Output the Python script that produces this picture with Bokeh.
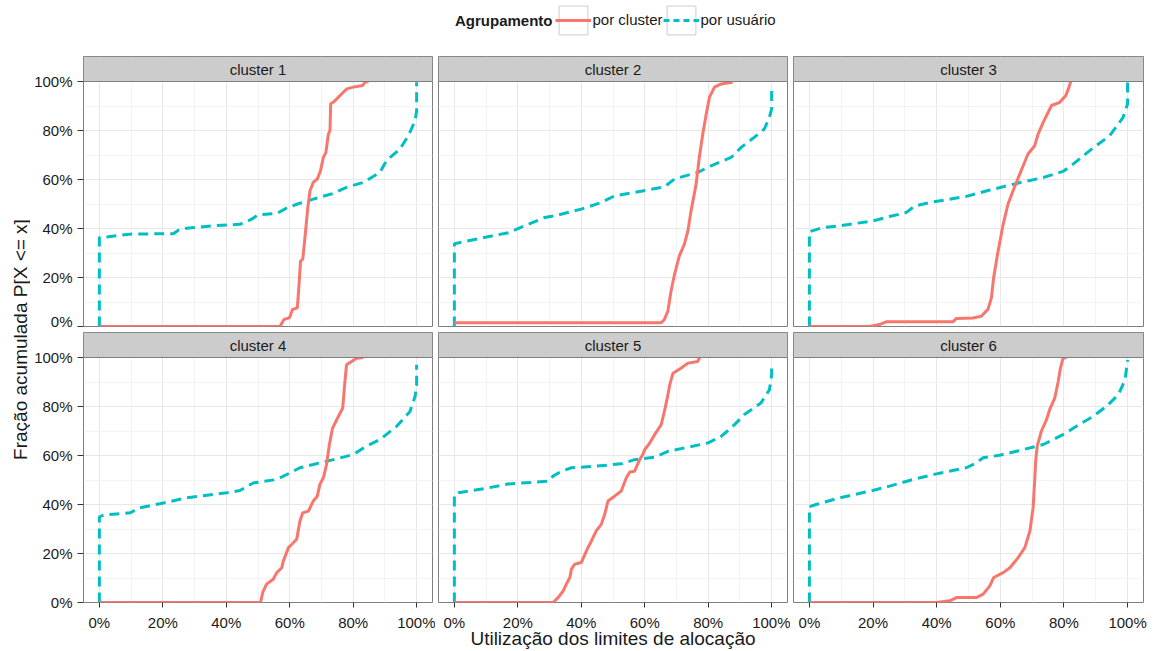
from bokeh.plotting import figure
from bokeh.layouts import row, column
from bokeh.models import (Range1d, FixedTicker, PrintfTickFormatter, Grid, BoxAnnotation,
                          Label, Legend, LegendItem)
from bokeh.embed import file_html
from bokeh.resources import INLINE

FONT = "Liberation Sans"
RED = "#F8766D"
TEAL = "#00BFC4"
TXT = "#1a1a1a"
BORDER = "#7f7f7f"

clusters = ["cluster 1", "cluster 2", "cluster 3", "cluster 4", "cluster 5", "cluster 6"]
series_labels = ["por cluster", "por usuário"]
legend_title = "Agrupamento"
x_title = "Utilização dos limites de alocação"
y_title = "Fração acumulada P[X <= x]"
tick_values = [0, 20, 40, 60, 80, 100]
minor_values = [10, 30, 50, 70, 90]

# ECDF curves, utilisation (%) vs cumulative fraction (%)
c1_cluster_x = [0, 56.9, 58.2, 59.9, 60.9, 62.4, 62.8, 63.4, 64.1, 64.8, 65.7, 66.4, 67.4, 68.7, 69.7,
                70.6, 71.4, 72.2, 72.7, 72.9, 73.7, 74.8, 76.4, 78.0, 80.0, 83.0, 83.7, 84.8]
c1_cluster_y = [0, 0, 2.9, 3.5, 7.0, 7.6, 14.5, 26.7, 27.4, 36.3, 48.6, 55.4, 58.8, 60.2, 63.6,
                69.0, 71.1, 78.6, 80.0, 90.9, 91.5, 92.9, 95.0, 97.0, 97.7, 98.4, 99.7, 100]
c1_user_x = [0, 0, 2.8, 9.7, 23.3, 24.9, 27.5, 35.9, 44.3, 48.0, 50.1, 55.9, 59.0, 62.2, 67.4, 73.7,
             77.9, 83.2, 88.4, 90.5, 94.7, 97.4, 99.5, 100, 100]
c1_user_y = [0, 36.3, 36.6, 37.7, 37.9, 39.3, 40.1, 41.1, 41.7, 43.8, 45.6, 46.1, 48.3, 49.9, 52.0, 54.3,
             56.8, 58.8, 62.9, 67.7, 72.4, 77.9, 84.0, 88.1, 99.7]

c2_cluster_x = [0, 65.2, 66.2, 67.3, 68.3, 69.4, 70.9, 72.5, 73.6, 74.6, 76.2, 77.2, 78.3, 79.4, 80.4,
                82.0, 84.1, 87.7]
c2_cluster_y = [1.5, 1.5, 2.9, 6.3, 14.5, 21.3, 28.8, 33.6, 39.0, 47.2, 58.1, 69.0, 78.6, 86.8, 93.6,
                97.7, 99.0, 99.7]
c2_user_x = [0, 0, 9.4, 17.0, 23.3, 28.5, 31.7, 40.0, 46.3, 50.5, 56.8, 66.2, 69.4, 76.7, 80.9, 87.2,
             90.4, 94.5, 97.7, 99.3, 100, 100]
c2_user_y = [0, 33.8, 36.3, 38.3, 41.7, 44.5, 45.2, 47.9, 50.6, 53.3, 54.7, 57.0, 60.2, 62.9, 65.6, 69.0,
             73.1, 77.2, 80.6, 85.4, 88.8, 97.4]

c3_cluster_x = [0, 18.9, 22.0, 24.1, 45.1, 46.2, 51.4, 54.0, 56.1, 57.2, 57.9, 59.3, 60.9, 62.4, 64.0,
                66.1, 68.7, 70.8, 71.9, 73.5, 76.1, 78.7, 80.6, 81.6, 82.1]
c3_cluster_y = [0, 0, 0.8, 1.9, 1.9, 3.3, 3.5, 4.2, 7.0, 11.7, 19.9, 30.8, 41.7, 49.9, 55.4,
                62.2, 70.4, 73.8, 78.6, 83.4, 90.2, 91.5, 94.3, 97.7, 100]
c3_user_x = [0, 0, 4.2, 9.4, 19.9, 25.2, 30.4, 33.1, 37.8, 49.3, 56.7, 65.1, 73.5, 79.7, 82.9, 88.1,
             94.4, 98.6, 100, 100]
c3_user_y = [0, 38.7, 40.4, 41.1, 43.1, 44.9, 46.5, 49.2, 50.6, 53.1, 55.7, 58.4, 60.8, 63.3, 66.3, 71.8,
             77.9, 85.4, 90.9, 99.7]

c4_cluster_x = [0, 50.8, 51.5, 52.7, 54.8, 55.9, 57.5, 58.0, 59.6, 60.6, 62.2, 63.2, 64.1, 65.9, 67.4,
                68.7, 69.5, 70.6, 71.6, 72.5, 73.5, 74.8, 76.7, 77.4, 77.9, 79.5, 81.1, 83.2]
c4_cluster_y = [0, 0, 4.1, 7.5, 9.5, 12.2, 14.2, 17.0, 22.4, 23.7, 25.8, 33.2, 36.6, 37.3, 41.4,
                43.4, 48.2, 50.9, 56.3, 64.5, 71.2, 74.6, 79.4, 90.2, 97.0, 98.4, 99.7, 100]
c4_user_x = [0, 0, 1.3, 9.7, 12.8, 19.1, 27.5, 40.1, 44.3, 48.5, 55.9, 60.1, 63.2, 67.4, 73.7, 80.0,
             84.2, 88.4, 93.7, 97.9, 99.5, 100, 100]
c4_user_y = [0, 34.9, 35.7, 36.6, 38.7, 40.3, 42.7, 44.8, 45.7, 48.8, 50.2, 52.9, 55.0, 56.3, 58.3, 60.4,
             63.8, 66.5, 71.9, 78.0, 84.1, 88.9, 97.0]

c5_cluster_x = [0, 31.1, 32.7, 34.3, 35.3, 36.4, 36.9, 37.9, 40.0, 42.1, 43.2, 44.7, 46.3, 47.4, 48.4,
                50.5, 52.6, 54.2, 55.3, 56.8, 58.4, 59.4, 60.0, 61.6, 63.1, 65.2, 66.2, 67.1, 67.9,
                68.9, 71.5, 73.6, 76.7, 77.3]
c5_cluster_y = [0, 0, 2.0, 4.7, 7.5, 10.2, 13.6, 15.6, 16.3, 22.4, 25.1, 29.2, 31.9, 36.0, 41.4,
                43.4, 45.5, 50.9, 53.3, 53.6, 58.3, 60.4, 62.4, 65.1, 68.5, 72.6, 78.0, 83.4, 88.9,
                93.6, 95.7, 97.7, 98.4, 100]
c5_user_x = [0, 0, 1.3, 9.6, 17.0, 29.6, 31.1, 33.8, 36.9, 44.2, 52.6, 56.8, 63.1, 67.3, 79.9, 84.1,
             88.3, 91.4, 96.6, 99.3, 100, 100]
c5_user_y = [0, 44.1, 44.8, 46.5, 48.4, 49.5, 51.6, 53.6, 55.0, 55.6, 56.6, 58.3, 59.3, 61.7, 65.1, 67.8,
             72.6, 76.7, 81.4, 86.8, 92.9, 97.3]

c6_cluster_x = [0, 39.9, 44.1, 46.2, 52.5, 54.6, 56.7, 57.9, 60.9, 63.0, 65.6, 67.7, 69.3, 70.3, 70.8,
                71.1, 71.6, 72.9, 74.5, 75.5, 77.1, 78.2, 78.9, 79.7, 80.8]
c6_cluster_y = [0, 0, 0.7, 2.0, 2.0, 3.4, 6.8, 10.2, 12.2, 14.2, 18.3, 22.4, 29.2, 38.7, 49.5,
                57.7, 63.8, 69.9, 74.6, 78.7, 83.4, 90.2, 95.7, 99.7, 100]
c6_user_x = [0, 0, 2.1, 9.4, 19.9, 25.2, 32.5, 39.9, 49.3, 52.5, 54.6, 59.8, 67.2, 73.5, 79.7, 83.9,
             89.2, 93.4, 97.1, 99.2, 100]
c6_user_y = [0, 39.1, 40.0, 42.7, 45.7, 47.5, 50.2, 52.5, 55.0, 57.0, 59.1, 60.1, 62.4, 64.5, 68.5, 71.9,
             76.0, 80.1, 84.8, 90.9, 99.0]

cluster_series = [(c1_cluster_x, c1_cluster_y), (c2_cluster_x, c2_cluster_y), (c3_cluster_x, c3_cluster_y),
                  (c4_cluster_x, c4_cluster_y), (c5_cluster_x, c5_cluster_y), (c6_cluster_x, c6_cluster_y)]
user_series = [(c1_user_x, c1_user_y), (c2_user_x, c2_user_y), (c3_user_x, c3_user_y),
               (c4_user_x, c4_user_y), (c5_user_x, c5_user_y), (c6_user_x, c6_user_y)]

DASH = "10 6"
STRIP = 25 / 245 * 100   # facet strip height expressed in y units
Y_TOP = 100 + STRIP
NAN = float("nan")


def style_axis(ax):
    ax.ticker = FixedTicker(ticks=tick_values, minor_ticks=[])
    ax.formatter = PrintfTickFormatter(format="%d%%")
    ax.axis_line_color = None
    ax.major_tick_line_color = "#333333"
    ax.major_tick_in = 0
    ax.minor_tick_line_color = None
    ax.major_label_text_font = FONT
    ax.major_label_text_font_size = "15px"
    ax.major_label_text_color = TXT


def make_panel(idx):
    r, c = divmod(idx, 3)
    p = figure(frame_width=350 if c == 2 else 349, frame_height=270,
               x_range=Range1d(-5, 105), y_range=Range1d(0, Y_TOP),
               x_axis_location="below" if r == 1 else None,
               y_axis_location="left" if c == 0 else None,
               min_border_left=53 if c == 0 else 3,
               min_border_right=11 if c == 2 else 3,
               min_border_top=3, min_border_bottom=49 if r == 1 else 3,
               toolbar_location=None, output_backend="svg",
               background_fill_color="white", border_fill_color="white",
               outline_line_color=BORDER, outline_line_width=1)
    p.center = []
    p.add_layout(Grid(dimension=0, ticker=FixedTicker(ticks=tick_values, minor_ticks=minor_values),
                      grid_line_color="#e8e8e8", grid_line_width=1,
                      minor_grid_line_color="#f3f3f3", minor_grid_line_width=1))
    p.add_layout(Grid(dimension=1, ticker=FixedTicker(ticks=tick_values, minor_ticks=minor_values),
                      grid_line_color="#e8e8e8", grid_line_width=1,
                      minor_grid_line_color="#f3f3f3", minor_grid_line_width=1))
    if r == 1:
        style_axis(p.xaxis[0])
        p.xaxis.major_tick_out = 5
        p.xaxis.major_label_standoff = 6
        if c == 1:
            p.xaxis.axis_label = x_title
            p.xaxis.axis_label_text_font = FONT
            p.xaxis.axis_label_text_font_size = "19px"
            p.xaxis.axis_label_text_font_style = "normal"
            p.xaxis.axis_label_text_color = TXT
            p.xaxis.axis_label_standoff = -6
    if c == 0:
        style_axis(p.yaxis[0])
        p.yaxis.major_tick_out = 6
        p.yaxis.major_label_standoff = 5

    ux, uy = user_series[idx]
    cx, cy = cluster_series[idx]
    p.line(ux, uy, line_color=TEAL, line_width=3, line_dash=DASH)
    p.line(cx, cy, line_color=RED, line_width=3)

    p.add_layout(BoxAnnotation(left=-5, right=105, bottom=100, top=Y_TOP,
                               fill_color="#cccccc", fill_alpha=1,
                               line_color=BORDER, line_width=1, line_alpha=1))
    p.add_layout(Label(x=50, y=100 + STRIP / 2, text=clusters[idx], text_align="center",
                       text_baseline="middle", text_font=FONT, text_font_size="15px",
                       text_color=TXT))
    return p


panels = [make_panel(i) for i in range(6)]

# legend strip on top; key renderers hold a single NaN so they draw nothing themselves
lg = figure(width=1124, height=53, x_range=Range1d(0, 1), y_range=Range1d(0, 1),
            x_axis_location=None, y_axis_location=None, min_border=0,
            toolbar_location=None, output_backend="svg", outline_line_color=None,
            background_fill_color="white", border_fill_color="white")
lg.center = []
key_box = lg.rect(x=[NAN], y=[NAN], width=1, height=1, fill_color="white",
                  line_color="#cccccc", line_width=1)
key_red = lg.line(x=[NAN, NAN], y=[NAN, NAN], line_color=RED, line_width=3)
key_teal = lg.line(x=[NAN, NAN], y=[NAN, NAN], line_color=TEAL, line_width=3, line_dash="6 4")
legend = Legend(items=[LegendItem(label=series_labels[0], renderers=[key_box, key_red]),
                       LegendItem(label=series_labels[1], renderers=[key_box, key_teal])],
                orientation="horizontal", location=(524.5, 15.5),
                glyph_width=36, glyph_height=36, label_standoff=2, spacing=0,
                padding=0, margin=0, border_line_color=None, background_fill_alpha=0,
                label_text_font=FONT, label_text_font_size="15px", label_text_color=TXT)
lg.add_layout(legend)
lg.add_layout(Label(x=522, y=33.5, x_units="screen", y_units="screen", text=legend_title,
                    text_align="right", text_baseline="middle", text_font=FONT,
                    text_font_size="15px", text_font_style="bold", text_color=TXT))

# rotated y-axis title spanning both rows
yt = figure(width=30, height=651, x_range=Range1d(0, 30), y_range=Range1d(0, 651),
            x_axis_location=None, y_axis_location=None, min_border=0,
            toolbar_location=None, output_backend="svg", outline_line_color=None,
            background_fill_color="white", border_fill_color="white")
yt.center = []
yt.add_layout(Label(x=20, y=312, text=y_title, angle=90, angle_units="deg",
                    text_align="center", text_baseline="middle", text_font=FONT,
                    text_font_size="19px", text_color=TXT))

layout = row(yt, column(lg, row(*panels[:3]), row(*panels[3:])))

open("out.html", "w").write(file_html(layout, INLINE))
